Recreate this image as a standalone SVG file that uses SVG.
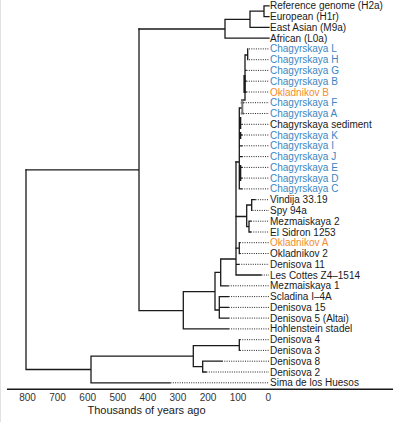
<svg xmlns="http://www.w3.org/2000/svg" width="395" height="422" viewBox="0 0 395 422">
<style>
text{font-family:"Liberation Sans",Arial,sans-serif;font-size:10px;fill:#1a1a1a}
.b{fill:#3a86c4}
.o{fill:#f28c2c}
.ax{font-size:10px;fill:#333;text-anchor:middle}
.tt{font-size:11px;fill:#1a1a1a;text-anchor:middle}
.tr path{fill:none;stroke:#1a1a1a;stroke-width:1.3;stroke-linecap:square}
.dt path{fill:none;stroke:#222;stroke-width:1;stroke-dasharray:1 1.3}
</style>
<rect width="395" height="422" fill="#fff"/>
<line x1="0.5" y1="0" x2="0.5" y2="422" stroke="#e2e2e2" stroke-width="1"/>
<g id="connectors">
<g class="tr">
<!-- modern humans -->
<path d="M139 29H225M225 19.3V38.1M225 19.3H250M250 11.2V27.3M250 11.2H264M264 5.8V16.6M264 5.8H269M264 16.6H269M250 27.3H269M225 38.1H269"/>
<!-- neanderthal backbone -->
<path d="M139 29V310.7M26 169.8H139M139 310.7H183.3M183.3 291.7V328.9M183.3 328.9H228.3M183.3 291.7H215M215 272.3V310M215 310H219.3M219.3 296.6V318.1M219.3 296.6H228.3M219.3 307.4H228.3M219.3 318.1H228.3M215 272.3H220.7M220.7 259V285.8M220.7 285.8H228M220.7 259H236M236 162V275M236 275H261M236 264.3H238.5"/>
<path d="M236 248.1H239.3M239.3 242.7V253.5M236 216.5H246.7M246.7 205V226.6M246.7 205H251.7M251.7 199.7V210.4M251.7 199.7H255M246.7 226.6H249M249 221.2V232M249 221.2H250.5M249 232H250.5"/>
<!-- chagyrskaya clade -->
<path d="M236 162H239.3M239.3 108V188.9M239.3 135H241.5M239.3 145.8H241.5M239.3 156.6H241.5M239.3 167.4H241.5M239.3 178.1H241.5M239.3 188.9H241.5M239.3 124.3H241M239.3 108H241.7M241.7 100H245M245 55V100M245 55H247.7M247.7 48.9V59.7M245 70.4H246M245 81.2H246M245 92H246"/>
<path d="M240.2 118V128M240.2 133V138M240.2 166V180M244.5 76V92" style="stroke-width:2.2"/>
<path d="M242.3 100V113.5M241.7 102.7H243M241.7 113.5H243" style="stroke:#777;stroke-width:2"/>
<!-- denisovans and sima -->
<path d="M26 169.8V369.5M26 369.5H91M91 356.2V382.8M91 382.8H170M91 356.2H193.3M193.3 345.7V366.7M193.3 345.7H239.3M239.3 339.7V350.4M193.3 366.7H202.7M202.7 361.2V372M202.7 361.2H221.7M202.7 372H206"/>
</g>
<g class="dt">
<path d="M249 48.9H269M249 59.7H269M246.5 70.4H269M246.5 81.2H269M246.5 92H269M243.5 102.7H269M243.5 113.5H269M242 124.3H269M242 135H269M242 145.8H269M242 156.6H269M242 167.4H269M242 178.1H269M242 188.9H269"/>
<path d="M255.5 199.7H269M252.5 210.4H269M251 221.2H269M251 232H269M240 242.7H269M240 253.5H269M239 264.3H269M261.5 275H269M228.5 285.8H269M228.8 296.6H269M228.8 307.4H269M228.8 318.1H269M228.8 328.9H269M240 339.7H269M240 350.4H269M222 361.2H269M206.5 372H269M170.5 382.8H269"/>
</g>
</g>
<g id="n0"><text x="270" y="9.3">Reference genome (H2a)</text></g>
<g id="n1"><text x="270" y="20.1">European (H1r)</text></g>
<g id="n2"><text x="270" y="30.8">East Asian (M9a)</text></g>
<g id="n3"><text x="270" y="41.6">African (L0a)</text></g>
<g id="n4"><text class="b" x="270" y="52.4">Chagyrskaya L</text></g>
<g id="n5"><text class="b" x="270" y="63.2">Chagyrskaya H</text></g>
<g id="n6"><text class="b" x="270" y="73.9">Chagyrskaya G</text></g>
<g id="n7"><text class="b" x="270" y="84.7">Chagyrskaya B</text></g>
<g id="n8"><text class="o" x="270" y="95.5">Okladnikov B</text></g>
<g id="n9"><text class="b" x="270" y="106.2">Chagyrskaya F</text></g>
<g id="n10"><text class="b" x="270" y="117">Chagyrskaya A</text></g>
<g id="n11"><text x="270" y="127.8">Chagyrskaya sediment</text></g>
<g id="n12"><text class="b" x="270" y="138.5">Chagyrskaya K</text></g>
<g id="n13"><text class="b" x="270" y="149.3">Chagyrskaya I</text></g>
<g id="n14"><text class="b" x="270" y="160.1">Chagyrskaya J</text></g>
<g id="n15"><text class="b" x="270" y="170.9">Chagyrskaya E</text></g>
<g id="n16"><text class="b" x="270" y="181.6">Chagyrskaya D</text></g>
<g id="n17"><text class="b" x="270" y="192.4">Chagyrskaya C</text></g>
<g id="n18"><text x="270" y="203.2">Vindija 33.19</text></g>
<g id="n19"><text x="270" y="213.9">Spy 94a</text></g>
<g id="n20"><text x="270" y="224.7">Mezmaiskaya 2</text></g>
<g id="n21"><text x="270" y="235.5">El Sidron 1253</text></g>
<g id="n22"><text class="o" x="270" y="246.2">Okladnikov A</text></g>
<g id="n23"><text x="270" y="257">Okladnikov 2</text></g>
<g id="n24"><text x="270" y="267.8">Denisova 11</text></g>
<g id="n25"><text x="270" y="278.5">Les Cottes Z4–1514</text></g>
<g id="n26"><text x="270" y="289.3">Mezmaiskaya 1</text></g>
<g id="n27"><text x="270" y="300.1">Scladina I–4A</text></g>
<g id="n28"><text x="270" y="310.9">Denisova 15</text></g>
<g id="n29"><text x="270" y="321.6">Denisova 5 (Altai)</text></g>
<g id="n30"><text x="270" y="332.4">Hohlenstein stadel</text></g>
<g id="n31"><text x="270" y="343.2">Denisova 4</text></g>
<g id="n32"><text x="270" y="353.9">Denisova 3</text></g>
<g id="n33"><text x="270" y="364.7">Denisova 8</text></g>
<g id="n34"><text x="270" y="375.5">Denisova 2</text></g>
<g id="n35"><text x="270" y="386.3">Sima de los Huesos</text></g>
<g id="axis">
<line x1="7" y1="389.3" x2="393" y2="389.3" stroke="#1a1a1a" stroke-width="1.6"/>
<text class="ax" x="27.5" y="400.5">800</text>
<text class="ax" x="57.6" y="400.5">700</text>
<text class="ax" x="87.7" y="400.5">600</text>
<text class="ax" x="117.8" y="400.5">500</text>
<text class="ax" x="147.9" y="400.5">400</text>
<text class="ax" x="177.9" y="400.5">300</text>
<text class="ax" x="208" y="400.5">200</text>
<text class="ax" x="238.1" y="400.5">100</text>
<text class="ax" x="268.2" y="400.5">0</text>
<text class="tt" x="146.5" y="414">Thousands of years ago</text>
</g>
</svg>
